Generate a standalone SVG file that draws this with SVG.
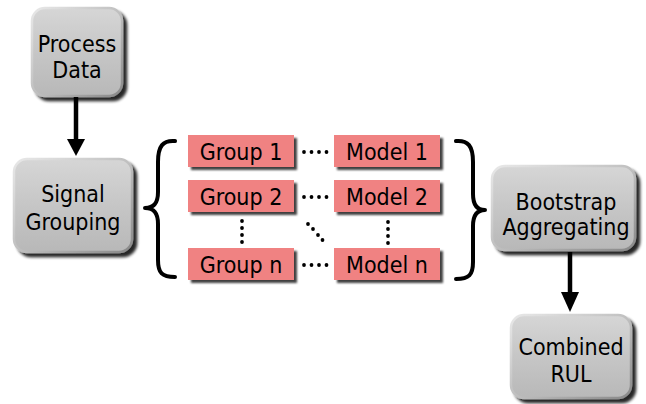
<svg xmlns="http://www.w3.org/2000/svg" width="646" height="404" viewBox="0 0 646 404">
  <defs>
    <linearGradient id="grayFill" x1="0" y1="0" x2="0" y2="1">
      <stop offset="0" stop-color="#d6d6d6"/>
      <stop offset="0.5" stop-color="#c6c6c6"/>
      <stop offset="1" stop-color="#b8b8b8"/>
    </linearGradient>
    <linearGradient id="bevel" x1="0" y1="0" x2="1" y2="1">
      <stop offset="0" stop-color="#e8e8e8"/>
      <stop offset="0.5" stop-color="#c0c0c0"/>
      <stop offset="1" stop-color="#888888"/>
    </linearGradient>
    <filter id="shadow" x="-20%" y="-20%" width="150%" height="150%">
      <feGaussianBlur in="SourceAlpha" stdDeviation="1.8"/>
      <feOffset dx="3.5" dy="3.5" result="b"/>
      <feComponentTransfer><feFuncA type="linear" slope="0.85"/></feComponentTransfer>
      <feMerge><feMergeNode/><feMergeNode in="SourceGraphic"/></feMerge>
    </filter>
    <filter id="shadowSmall" x="-20%" y="-30%" width="150%" height="170%">
      <feGaussianBlur in="SourceAlpha" stdDeviation="1.2"/>
      <feOffset dx="2.5" dy="2.5" result="b"/>
      <feComponentTransfer><feFuncA type="linear" slope="0.75"/></feComponentTransfer>
      <feMerge><feMergeNode/><feMergeNode in="SourceGraphic"/></feMerge>
    </filter>
  </defs>
  <style>
    text { font-family: "DejaVu Sans Condensed", "DejaVu Sans", sans-serif; font-stretch: condensed; font-size: 23px; fill: #000; text-anchor: middle; }
    .box { fill: url(#grayFill); stroke: url(#bevel); stroke-width: 2.5; filter: url(#shadow); }
    .pink { fill: #f08282; filter: url(#shadowSmall); }
    .dot { fill: #000; }
    .brace { fill: none; stroke: #000; stroke-width: 4; stroke-linecap: round; stroke-linejoin: round; }
    .shaft { stroke: #000; stroke-width: 4.5; }
  </style>

  <!-- process steps -->
  <g id="process-data">
    <rect class="box" x="32" y="8" width="90" height="88" rx="13"/>
    <text x="77" y="52">Process</text>
    <text x="77" y="78">Data</text>
  </g>
  <g id="signal-grouping">
    <rect class="box" x="14" y="159" width="118" height="93" rx="13"/>
    <text x="73" y="202">Signal</text>
    <text x="73" y="230">Grouping</text>
  </g>
  <g id="bootstrap-aggregating">
    <rect class="box" x="492" y="166" width="143" height="84" rx="13"/>
    <text x="566" y="210">Bootstrap</text>
    <text x="566" y="235">Aggregating</text>
  </g>
  <g id="combined-rul">
    <rect class="box" x="511" y="315" width="120" height="83" rx="13"/>
    <text x="571" y="355">Combined</text>
    <text x="571" y="382">RUL</text>
  </g>

  <!-- signal groups and their models -->
  <g id="group-1">
    <rect class="pink" x="188" y="135" width="106" height="32"/>
    <text x="241" y="160">Group 1</text>
  </g>
  <g id="group-2">
    <rect class="pink" x="188" y="180" width="106" height="32"/>
    <text x="241" y="205">Group 2</text>
  </g>
  <g id="group-n">
    <rect class="pink" x="188" y="248" width="106" height="32"/>
    <text x="241" y="273">Group n</text>
  </g>
  <g id="model-1">
    <rect class="pink" x="334" y="135" width="106" height="32"/>
    <text x="387" y="160">Model 1</text>
  </g>
  <g id="model-2">
    <rect class="pink" x="334" y="180" width="106" height="32"/>
    <text x="387" y="205">Model 2</text>
  </g>
  <g id="model-n">
    <rect class="pink" x="334" y="248" width="106" height="32"/>
    <text x="387" y="273">Model n</text>
  </g>

  <g id="connectors">
    <!-- Process Data to Signal Grouping -->
    <line class="shaft" x1="76" y1="97" x2="76" y2="142"/>
    <polygon points="67,139 85,139 76,156"/>
    <!-- Bootstrap Aggregating to Combined RUL -->
    <line class="shaft" x1="570" y1="252" x2="570" y2="294"/>
    <polygon points="561,292 579,292 570,312"/>

    <!-- braces around the group/model set -->
    <path class="brace" d="M175,141 C163,140 158,146 158,162 L158,192 C158,203 154,208 145,208 C154,208 158,213 158,224 L158,260 C158,273 162,277 175,277"/>
    <path class="brace" d="M456,141 C468,140 473,146 473,162 L473,194 C473,205 477,210 485,210 C477,210 473,215 473,226 L473,262 C473,275 469,279 456,279"/>

    <!-- dotted links group to model -->
    <g class="dot">
      <circle cx="304" cy="152" r="1.9"/><circle cx="311.5" cy="152" r="1.9"/><circle cx="319" cy="152" r="1.9"/><circle cx="326.5" cy="152" r="1.9"/>
      <circle cx="304" cy="197" r="1.9"/><circle cx="311.5" cy="197" r="1.9"/><circle cx="319" cy="197" r="1.9"/><circle cx="326.5" cy="197" r="1.9"/>
      <circle cx="304" cy="265" r="1.9"/><circle cx="311.5" cy="265" r="1.9"/><circle cx="319" cy="265" r="1.9"/><circle cx="326.5" cy="265" r="1.9"/>
      <!-- vertical ellipsis under Group 2 -->
      <circle cx="242" cy="221" r="1.9"/><circle cx="242" cy="228" r="1.9"/><circle cx="242" cy="235" r="1.9"/><circle cx="242" cy="242" r="1.9"/>
      <!-- vertical ellipsis under Model 2 -->
      <circle cx="388" cy="222" r="1.9"/><circle cx="388" cy="229" r="1.9"/><circle cx="388" cy="236" r="1.9"/><circle cx="388" cy="243" r="1.9"/>
      <!-- diagonal ellipsis -->
      <circle cx="308" cy="224" r="1.9"/><circle cx="313" cy="229" r="1.9"/><circle cx="318" cy="235" r="1.9"/><circle cx="322.5" cy="240" r="1.9"/>
    </g>
  </g>
</svg>
